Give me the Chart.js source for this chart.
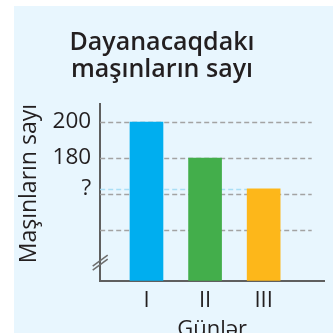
<!DOCTYPE html>
<html>
<head>
<meta charset="utf-8">
<script src="https://cdn.jsdelivr.net/npm/chart.js@4"></script>
<style>
  html, body { margin: 0; padding: 0; background: #fff; overflow: hidden; }
  #panel { position: absolute; left: 14px; top: 6px; width: 319px; height: 327px; background: #e8f6fe; }
  #wrap { position: absolute; left: 0; top: 0; width: 333px; height: 343px; }
</style>
</head>
<body>
<div id="panel"></div>
<div id="wrap"><canvas id="chart"></canvas></div>
<script>
const days = ["I", "II", "III"];
const cars = [200, 180, 163];
const yTickValues = [163, 180, 200];
const yTickLabels = ["?", "180", "200"];
const gridValues = [140, 160, 180, 200];

const barColors = ["#00aeef", "#43ae4b", "#fdb71a"];
const textColor = "#231f20";
const font = "'Open Sans', sans-serif";

// dashed guides behind the bars, the "?" helper line and the axis break mark
const guides = {
  id: "guides",
  beforeDatasetsDraw(chart) {
    const { ctx, chartArea, scales } = chart;
    const right = scales.x.getPixelForValue(3.82);
    ctx.save();
    ctx.lineWidth = 1.5;
    ctx.setLineDash([5, 3]);
    ctx.strokeStyle = "#a3a3a3";
    gridValues.forEach(v => {
      const y = Math.round(scales.y.getPixelForValue(v)) + 0.5;
      ctx.beginPath();
      ctx.moveTo(chartArea.left, y);
      ctx.lineTo(right, y);
      ctx.stroke();
    });
    const bar = chart.getDatasetMeta(0).data[2];
    const qy = Math.round(scales.y.getPixelForValue(cars[2])) + 0.5;
    ctx.strokeStyle = "#a9def5";
    ctx.beginPath();
    ctx.moveTo(chartArea.left, qy);
    ctx.lineTo(bar.x - bar.width / 2, qy);
    ctx.stroke();
    ctx.restore();
  },
  afterDraw(chart) {
    const { ctx, chartArea } = chart;
    const x = chartArea.left;
    const y = chartArea.bottom - 18;
    ctx.save();
    ctx.strokeStyle = "#6d6d6d";
    ctx.lineWidth = 1.5;
    [-2, 2].forEach(d => {
      ctx.beginPath();
      ctx.moveTo(x - 7.5, y + d + 5.5);
      ctx.lineTo(x + 7.5, y + d - 5.5);
      ctx.stroke();
    });
    ctx.restore();
  }
};

new Chart(document.getElementById("chart"), {
  type: "bar",
  data: {
    datasets: [{
      data: cars.map((v, i) => ({ x: i + 1, y: v })),
      backgroundColor: barColors,
      barThickness: 33
    }]
  },
  options: {
    responsive: true,
    maintainAspectRatio: false,
    animation: false,
    layout: { padding: { left: 0, right: 9, top: 0, bottom: 0 } },
    plugins: {
      legend: { display: false },
      tooltip: { enabled: false },
      title: {
        display: true,
        text: ["Dayanacaqdakı", "maşınların sayı"],
        color: textColor,
        font: { family: font, size: 25, weight: "600", lineHeight: 1.1 },
        padding: { top: 29, bottom: 20 }
      }
    },
    scales: {
      x: {
        type: "linear",
        offset: false,
        min: 0.21,
        max: 4.03,
        afterBuildTicks: s => { s.ticks = days.map((d, i) => ({ value: i + 1 })); },
        ticks: {
          callback: (v) => days[v - 1],
          color: textColor,
          font: { family: font, size: 22 },
          padding: 7
        },
        grid: { display: false, drawTicks: false },
        border: { color: "#5f5f5f", width: 2 },
        title: {
          display: true,
          text: "Günlər",
          color: textColor,
          font: { family: font, size: 22 },
          padding: { top: -4.5, bottom: 0 }
        }
      },
      y: {
        min: 112,
        max: 210,
        afterBuildTicks: s => { s.ticks = yTickValues.map(v => ({ value: v })); },
        ticks: {
          callback: (v, i) => yTickLabels[i],
          color: textColor,
          font: { family: font, size: 22.5 },
          padding: 9
        },
        grid: { display: false, drawTicks: false },
        border: { color: "#5f5f5f", width: 2 },
        title: {
          display: true,
          text: "Maşınların sayı",
          align: "end",
          color: textColor,
          font: { family: font, size: 23 },
          padding: { top: 16, bottom: 0 }
        }
      }
    }
  },
  plugins: [guides]
});
</script>
</body>
</html>
